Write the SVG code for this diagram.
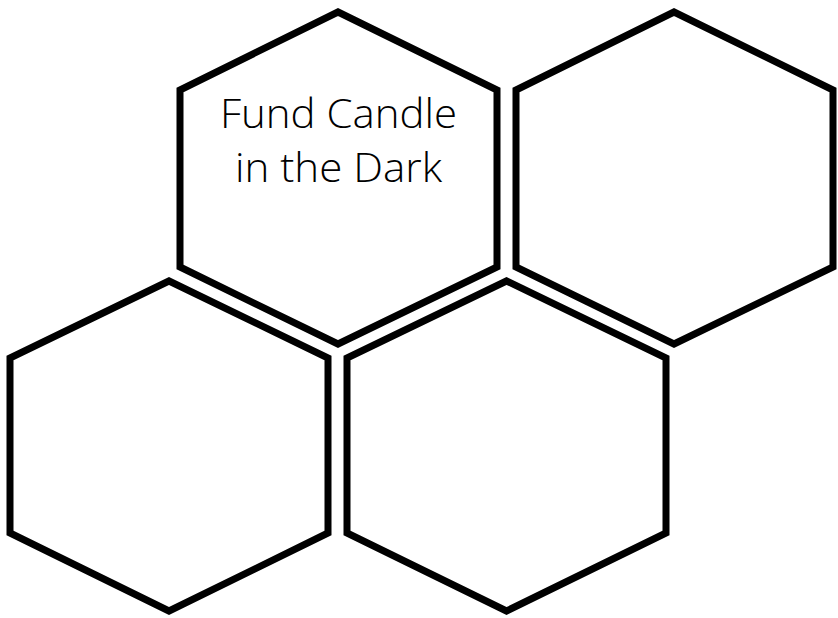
<svg xmlns="http://www.w3.org/2000/svg" width="838" height="618" viewBox="0 0 838 618">
<style>
.hex{fill:#fff;stroke:#000;stroke-width:7;stroke-linejoin:miter}
.lbl{font-family:"Open Sans","Liberation Sans",sans-serif;font-weight:300;font-size:40px;fill:#000;text-anchor:middle}
</style>
<rect width="838" height="618" fill="#fff"/>
<g id="hex-top-left">
<polygon class="hex" points="338,12 497,90 497,267 338,344 180,267 180,90"/>
<text class="lbl" x="338.5" y="128" textLength="237" lengthAdjust="spacingAndGlyphs">Fund Candle</text>
<text class="lbl" x="338.5" y="182" textLength="207" lengthAdjust="spacingAndGlyphs">in the Dark</text>
</g>
<g id="hex-top-right">
<polygon class="hex" points="674,12 833,90 833,267 674,344 516,267 516,90"/>
</g>
<g id="hex-bottom-left">
<polygon class="hex" points="169,281 328,358 328,533 169,611 10,533 10,358"/>
</g>
<g id="hex-bottom-middle">
<polygon class="hex" points="506.5,281 666,358 666,533 506.5,611 347,533 347,358"/>
</g>
<g id="connectors"/>
</svg>
